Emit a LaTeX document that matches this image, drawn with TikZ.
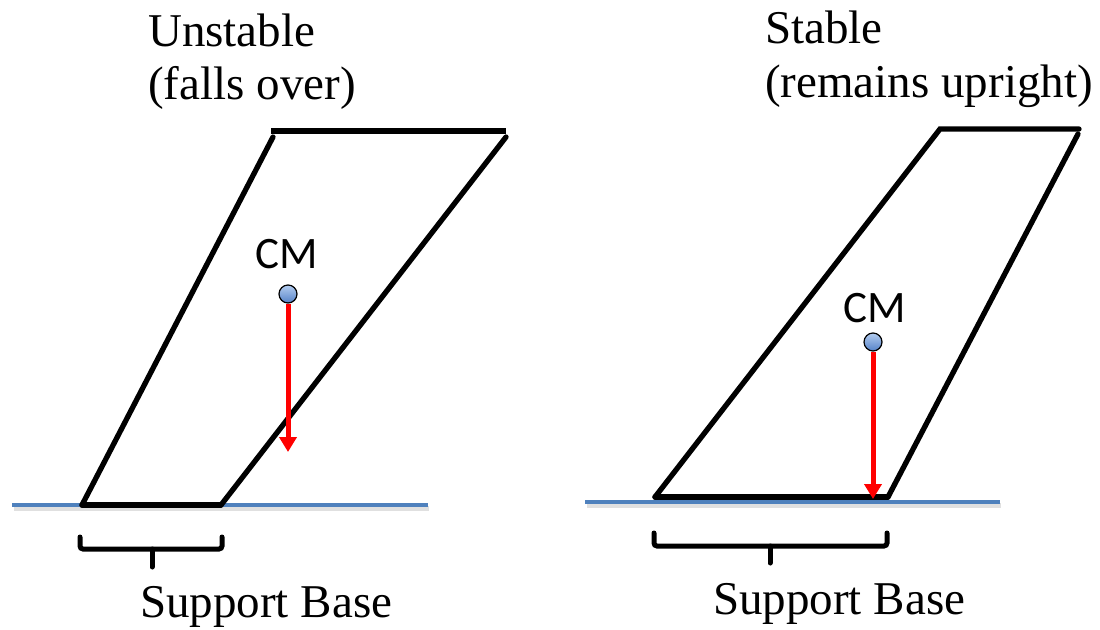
\documentclass[tikz,border=0pt]{standalone}
\usepackage{fontspec}
\setmainfont{Liberation Serif}
\newfontfamily\cmfont{Carlito}
\usetikzlibrary{arrows.meta}
\definecolor{groundblue}{RGB}{79,129,189}
\definecolor{dottop}{RGB}{180,205,240}
\definecolor{dotbot}{RGB}{85,130,200}
\tikzset{
  edge/.style={line width=5.3pt, line cap=round, black},
  ground/.style={line width=3.8pt, groundblue},
  groundshadow/.style={line width=5pt, black!12},
  brace/.style={line width=5pt, rounded corners=3pt, line cap=round},
  fall/.style={line width=5pt, red, -{Triangle[length=15pt,width=17pt]}},
  cmdot/.style={circle, draw=black, line width=1.2pt, minimum size=18pt, inner sep=0pt, top color=dottop, bottom color=dotbot},
  title/.style={font=\fontsize{47}{53}\selectfont, anchor=base west, inner sep=0pt},
  cmlabel/.style={font=\cmfont\fontsize{45}{50}\selectfont, anchor=base, inner sep=0pt},
}
\begin{document}
\begin{tikzpicture}[x=1pt,y=-1pt]
\useasboundingbox (0,0) rectangle (1100,629);
% ---------- left (unstable) ----------
\coordinate (gl1) at (12,505);
\coordinate (gl2) at (428,505);
\coordinate (gl1s) at (14,508);
\coordinate (gl2s) at (429,508);
\draw[groundshadow] (gl1s) -- (gl2s);
\draw[ground] (gl1) -- (gl2);
\coordinate (LA) at (82,505);
\coordinate (LB) at (221,505);
\coordinate (LC) at (506,137);
\coordinate (LD) at (273,137);
\coordinate (LT1) at (271,131);
\coordinate (LT2) at (506,131);
\draw[edge] (LA) -- (LB);
\draw[edge] (LA) -- (LD);
\draw[edge] (LB) -- (LC);
\draw[edge, line cap=butt] (LT1) -- (LT2);
\node[title] (t1) at (148,46) {Unstable};
\node[title] (t2) at (148,99) {(falls over)};
\node[cmlabel] (cm1) at (287,268) {CM};
\node[cmdot] (d1) at (288,294) {};
\coordinate (a1) at (288,452);
\draw[fall] (d1.south) -- (a1);
% brace left
\coordinate (bl1) at (80,537);
\coordinate (bl2) at (80,549);
\coordinate (bl3) at (222,549);
\coordinate (bl4) at (222,537);
\coordinate (blm) at (152,549);
\coordinate (blt) at (152,567);
\draw[brace] (bl1) -- (bl2) -- (bl3) -- (bl4);
\draw[brace] (blm) -- (blt);
\node[title] (s1) at (140,617) {Support Base};
% ---------- right (stable) ----------
\coordinate (gr1) at (585,502);
\coordinate (gr2) at (1000,502);
\coordinate (gr1s) at (587,505);
\coordinate (gr2s) at (1001,505);
\draw[groundshadow] (gr1s) -- (gr2s);
\draw[ground] (gr1) -- (gr2);
\coordinate (RA) at (655,497);
\coordinate (RB) at (888,497);
\coordinate (RC) at (1078,134);
\coordinate (RD) at (940,129);
\coordinate (RT2) at (1079,129);
\draw[edge] (RA) -- (RB);
\draw[edge, line join=miter] (RA) -- (RD) -- (RT2);
\draw[edge] (RB) -- (RC);
\node[title] (t3) at (765,43) {Stable};
\node[title] (t4) at (765,97) {(remains upright)};
\node[cmlabel] (cm2) at (875,322) {CM};
\node[cmdot] (d2) at (873,342) {};
\coordinate (a2) at (873,499);
\draw[fall] (d2.south) -- (a2);
% brace right
\coordinate (br1) at (654,533);
\coordinate (br2) at (654,546);
\coordinate (br3) at (887,546);
\coordinate (br4) at (887,533);
\coordinate (brm) at (770,546);
\coordinate (brt) at (770,563);
\draw[brace] (br1) -- (br2) -- (br3) -- (br4);
\draw[brace] (brm) -- (brt);
\node[title] (s2) at (713,614) {Support Base};
\end{tikzpicture}
\end{document}
